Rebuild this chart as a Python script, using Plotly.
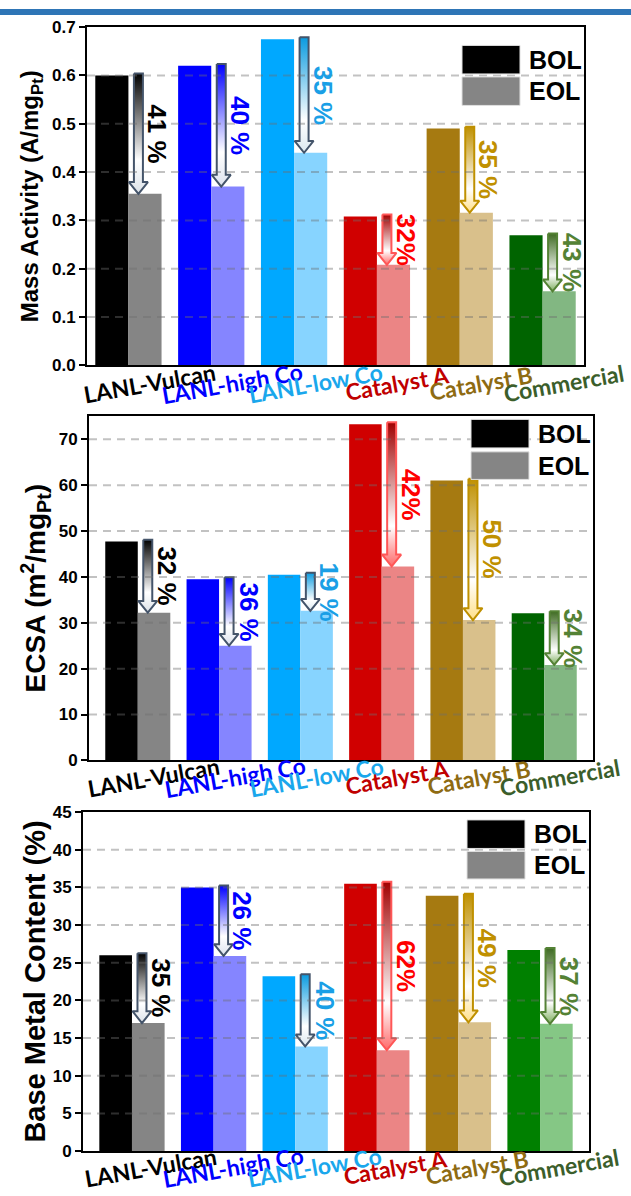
import plotly.graph_objects as go

W, H = 631, 1196

# ---------------- data ----------------
categories = ["LANL-Vulcan", "LANL-high Co", "LANL-low Co", "Catalyst A", "Catalyst B", "Commercial"]
label_colors = ["#000000", "#0000FF", "#1AA7EC", "#C00000", "#8E6B12", "#3B5E2B"]
pct_colors = ["#000000", "#0000FF", "#1A9FE6", "#FF0000", "#C09000", "#548235"]

mass_bol = [0.600, 0.620, 0.675, 0.308, 0.490, 0.269]
mass_eol = [0.355, 0.370, 0.440, 0.208, 0.316, 0.153]
mass_pct = ["41 %", "40 %", "35 %", "32%", "35 %", "43 %"]

ecsa_bol = [47.7, 39.5, 40.5, 73.3, 61.0, 32.1]
ecsa_eol = [32.2, 25.0, 32.6, 42.3, 30.6, 20.8]
ecsa_pct = ["32 %", "36 %", "19 %", "42%", "50 %", "34 %"]

metal_bol = [26.0, 35.0, 23.2, 35.5, 33.9, 26.7]
metal_eol = [17.0, 25.9, 13.9, 13.4, 17.1, 16.9]
metal_pct = ["35 %", "26 %", "40 %", "62%", "49 %", "37 %"]

legend_names = ["BOL", "EOL"]

# ---------------- styles ----------------
bol_colors_a = ["#000000", "#0000FF", "#00A8FF", "#D00000", "#A67A11", "#006400"]
eol_colors_a = ["#858585", "#8585FF", "#87D4FF", "#EB8585", "#D9C08B", "#82B782"]
bol_colors_b = ["#000000", "#0000FF", "#00A8FF", "#D00000", "#A67A11", "#008000"]
eol_colors_b = ["#858585", "#8585FF", "#87D4FF", "#EB8585", "#D9C08B", "#85C785"]

arrow_outline = ["#44546A", "#44546A", "#44546A", "#FF5757", "#BF9000", "#548235"]
arrow_top = ["#000000", "#0000FF", "#0A9BE0", "#A00000", "#BF9000", "#3E6A22"]
arrow_head = ["#DCE2E8", "#DCE2EE", "#DCE8F0", "#FF6A6A", "#FFE08A", "#7FAE60"]

FONT = "Liberation Sans, Arial, sans-serif"
LABEL_FONT = "Lato, Carlito, Calibri, sans-serif"


def fx(px):
    return px / W


def fy(py):
    return 1 - py / H


panels = [
    dict(s="", bol=mass_bol, eol=mass_eol, pct=mass_pct, xpx=(87, 584), ypx=(18.5, 362),
         xr=(-0.5, 5.5), yr=(0, 0.7), dtick=0.1, fmt=".1f", grid=[0.1, 0.2, 0.3, 0.4, 0.5, 0.6],
         title="Mass Activity (A/mg<sub>Pt</sub>)", tsize=24, tx=31,
         bolc=bol_colors_a, eolc=eol_colors_a, leg=(37, 66, 69, 98), lab_dx=21, lab_dy=18),
    dict(s="2", bol=ecsa_bol, eol=ecsa_eol, pct=ecsa_pct, xpx=(89, 593), ypx=(414, 763.5),
         xr=(-0.6, 5.6), yr=(0, 75), dtick=10, fmt="d", grid=[10, 20, 30, 40, 50, 60, 70],
         title="ECSA (m<sup>2</sup>/mg<sub>Pt</sub>)", tsize=28, tx=36,
         bolc=bol_colors_a, eolc=eol_colors_a, leg=(417, 446, 450, 478), lab_dx=16, lab_dy=17),
    dict(s="3", bol=metal_bol, eol=metal_eol, pct=metal_pct, xpx=(83, 589), ypx=(816, 1160.6),
         xr=(-0.6, 5.6), yr=(0, 45), dtick=5, fmt="d", grid=[5, 10, 15, 20, 25, 30, 35, 40],
         title="Base Metal Content (%)", tsize=29, tx=35,
         bolc=bol_colors_b, eolc=eol_colors_b, leg=(824, 853, 856, 884), lab_dx=19, lab_dy=16),
]

fig = go.Figure()
layout = dict(width=W, height=H, margin=dict(l=0, r=0, t=0, b=0), autosize=False,
              paper_bgcolor="white", plot_bgcolor="white", barmode="group",
              bargap=0.2, bargroupgap=0, showlegend=False)
shapes = []
annotations = []

# top blue band
shapes.append(dict(type="rect", xref="paper", yref="paper", x0=0, x1=1, y0=fy(6), y1=1,
                   fillcolor="#2E75B6", line=dict(width=0), layer="above"))

for p in panels:
    s = p["s"]
    xa, ya = "x" + s, "y" + s
    x0, x1 = p["xpx"]
    y0, y1 = p["ypx"]
    ppx = (x1 - x0) / (p["xr"][1] - p["xr"][0])
    ppy = (y1 - y0) / (p["yr"][1] - p["yr"][0])

    layout["xaxis" + s] = dict(domain=[fx(x0), fx(x1)], range=list(p["xr"]), anchor=ya,
                               showline=True, mirror=True, linecolor="black", linewidth=2,
                               showticklabels=False, ticks="", showgrid=False, zeroline=False)
    layout["yaxis" + s] = dict(domain=[fy(y1), fy(y0)], range=list(p["yr"]), anchor=xa,
                               showline=True, mirror=True, linecolor="black", linewidth=2,
                               ticks="outside", ticklen=6, tickwidth=2, tickcolor="black",
                               tick0=0, dtick=p["dtick"], tickformat=p["fmt"],
                               tickfont=dict(family=FONT, size=17, color="black", weight="bold"),
                               showgrid=False, zeroline=False)

    idx = list(range(len(categories)))
    fig.add_trace(go.Bar(x=idx, y=p["bol"], marker=dict(color=p["bolc"], line=dict(width=0)),
                         xaxis=xa, yaxis=ya, name=legend_names[0], hoverinfo="skip"))
    fig.add_trace(go.Bar(x=idx, y=p["eol"], marker=dict(color=p["eolc"], line=dict(width=0)),
                         xaxis=xa, yaxis=ya, name=legend_names[1], hoverinfo="skip"))

    # gridlines above bars
    for g in p["grid"]:
        shapes.append(dict(type="line", xref=xa + " domain", yref=ya, x0=0, x1=1, y0=g, y1=g,
                           line=dict(color="rgba(110,110,110,0.42)", width=2, dash="8px,6px"),
                           layer="above"))

    # arrows + percentage labels
    sw, hw, hh = 4.5 / ppx, 9.5 / ppx, 12 / ppy
    for i in idx:
        cx = i + 10 / ppx
        top = p["bol"][i] + 2 / ppy
        tip = p["eol"][i]
        ax = [cx - sw, cx + sw, cx + sw, cx + hw, cx, cx - hw, cx - sw, cx - sw]
        ay = [top, top, tip + hh, tip + hh, tip, tip + hh, tip + hh, top]
        fig.add_trace(go.Scatter(x=ax, y=ay, mode="lines", fill="toself",
                                 fillgradient=dict(type="vertical",
                                                   colorscale=[[0, arrow_head[i]], [0.28, "#FFFFFF"],
                                                               [1, arrow_top[i]]]),
                                 line=dict(color=arrow_outline[i], width=2),
                                 xaxis=xa, yaxis=ya, hoverinfo="skip", showlegend=False))
        annotations.append(dict(x=i + 29 / ppx, y=(top + tip) / 2, xref=xa, yref=ya,
                                text="<b>%s</b>" % p["pct"][i], textangle=90, showarrow=False,
                                font=dict(family=FONT, size=26, color=pct_colors[i]),
                                xanchor="center", yanchor="middle"))
        # category labels
        annotations.append(dict(x=i, y=fy(y1 + p["lab_dy"]), xref=xa, yref="paper",
                                xshift=p["lab_dx"], text="<b>%s</b>" % categories[i],
                                textangle=-10, showarrow=False,
                                font=dict(family=LABEL_FONT, size=23, color=label_colors[i]),
                                xanchor="center", yanchor="middle"))

    # y-axis title
    annotations.append(dict(x=fx(p["tx"]), y=fy((y0 + y1) / 2), xref="paper", yref="paper",
                            text="<b>%s</b>" % p["title"], textangle=-90, showarrow=False,
                            font=dict(family=FONT, size=p["tsize"], color="black"),
                            xanchor="center", yanchor="middle"))

    # legend
    b0, b1, e0, e1 = p["leg"]
    for (t0, t1), col, nm in zip([(b0, b1), (e0, e1)], ["#000000", "#858585"], legend_names):
        shapes.append(dict(type="rect", xref="paper", yref="paper",
                           x0=fx(x1 - 122), x1=fx(x1 - 64), y0=fy(t1), y1=fy(t0),
                           fillcolor=col, line=dict(color="#E0E0E0", width=1), layer="above"))
        annotations.append(dict(x=fx(x1 - 57), y=fy((t0 + t1) / 2), xref="paper", yref="paper",
                                text="<b>%s</b>" % nm, showarrow=False, xanchor="left",
                                yanchor="middle", font=dict(family=FONT, size=25, color="black")))

layout["shapes"] = shapes
layout["annotations"] = annotations
fig.update_layout(**layout)
fig.write_html("out.html")
